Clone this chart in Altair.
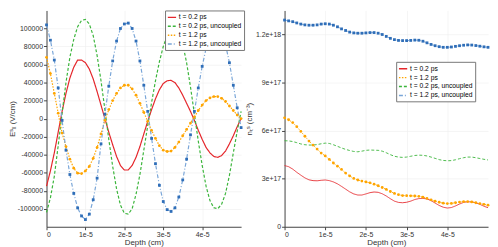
import altair as alt
import pandas as pd

# ---- data (depth in cm, sampled every 1e-6 cm) ----
depth = [i * 1e-6 for i in range(51)]

# Left panel: field Ex (V/cm)
ex_red_02 = [-75000, -58000, -38000, -15000, 8000, 28000, 45000, 57000, 65000, 65000,
             62000, 55000, 44000, 30000, 15000, 0, -15000, -29000, -42000, -52000,
             -57000, -57000, -52000, -43000, -31000, -17000, -3000, 10000, 22000, 32000,
             39000, 42000, 42500, 40000, 34000, 26000, 17000, 8000, -2000, -13000,
             -23000, -32000, -38000, -42000, -43000, -41000, -36000, -28000, -19000, -9000, 0]
ex_green_02u = [-104000, -88000, -64000, -30000, 6000, 40000, 68000, 88000, 102000, 109000,
                110000, 105000, 92000, 70000, 42000, 10000, -23000, -53000, -78000, -96000,
                -105000, -106000, -100000, -84000, -62000, -35000, -8000, 18000, 42000, 63000,
                80000, 92000, 100000, 102000, 97000, 83000, 62000, 35000, 5000, -25000,
                -52000, -75000, -91000, -99000, -100000, -95000, -83000, -63000, -38000, -14000, 8000]
ex_orange_12 = [68000, 50000, 28000, 6000, -16000, -31000, -45000, -55000, -60500, -61000,
                -58000, -53000, -44000, -32000, -17000, -2000, 10000, 20000, 28000, 34000,
                37000, 37000, 33000, 26000, 17000, 7000, -3000, -13000, -22000, -30000,
                -35000, -36500, -36000, -32000, -26000, -19000, -12000, -5000, 2000, 9000,
                15000, 20000, 23000, 24500, 24500, 22500, 19000, 14000, 9000, 4000, 0]
ex_blue_12u = [104000, 87000, 65000, 34000, -2000, -35000, -62000, -83000, -99000, -108000,
               -112000, -106000, -90000, -66000, -28000, 5000, 36000, 64000, 86000, 100000,
               105000, 106000, 100000, 86000, 64000, 37000, 8000, -22000, -50000, -74000,
               -92000, -101000, -103000, -99000, -87000, -68000, -45000, -18000, 8000, 34000,
               58000, 78000, 92000, 99000, 100000, 94000, 82000, 62000, 37000, 12000, -10000]

# Right panel: density (units of 1e17 cm^-3)
n_red_02 = [3.82, 3.75, 3.6, 3.4, 3.22, 3.05, 2.93, 2.88, 2.87, 2.9,
            2.92, 2.88, 2.8, 2.68, 2.52, 2.35, 2.18, 2.05, 1.98, 1.98,
            2.05, 2.13, 2.17, 2.15, 2.06, 1.92, 1.75, 1.6, 1.52, 1.5,
            1.53, 1.6, 1.7, 1.76, 1.77, 1.74, 1.63, 1.48, 1.33, 1.22,
            1.17, 1.2, 1.3, 1.42, 1.52, 1.56, 1.55, 1.5, 1.4, 1.28, 1.19]
n_orange_12 = [6.8, 6.68, 6.5, 6.25, 5.95, 5.65, 5.35, 5.1, 4.85, 4.6,
               4.42, 4.2, 3.98, 3.78, 3.58, 3.35, 3.17, 3.02, 2.92, 2.85,
               2.8, 2.74, 2.66, 2.56, 2.45, 2.33, 2.2, 2.08, 2.0, 1.95,
               1.94, 1.93, 1.92, 1.9, 1.85, 1.77, 1.68, 1.6, 1.53, 1.47,
               1.45, 1.46, 1.5, 1.54, 1.57, 1.57, 1.55, 1.5, 1.45, 1.4, 1.35]
n_green_02u = [5.37, 5.36, 5.32, 5.25, 5.17, 5.12, 5.1, 5.1, 5.13, 5.18,
               5.22, 5.2, 5.12, 5.02, 4.92, 4.83, 4.76, 4.7, 4.68, 4.72,
               4.77, 4.79, 4.78, 4.77, 4.72, 4.62, 4.5, 4.4, 4.35, 4.33,
               4.35, 4.4, 4.45, 4.47, 4.46, 4.42, 4.35, 4.27, 4.19, 4.14,
               4.12, 4.13, 4.18, 4.25, 4.31, 4.35, 4.35, 4.31, 4.26, 4.21, 4.17]
n_blue_12u = [12.9, 12.85, 12.8, 12.72, 12.65, 12.6, 12.58, 12.58, 12.6, 12.65,
              12.67, 12.65, 12.58, 12.48, 12.35, 12.25, 12.15, 12.1, 12.08, 12.08,
              12.1, 12.12, 12.12, 12.08, 12.0, 11.88, 11.76, 11.68, 11.63, 11.62,
              11.62, 11.63, 11.65, 11.64, 11.58, 11.48, 11.38, 11.3, 11.24, 11.2,
              11.2, 11.22, 11.26, 11.3, 11.33, 11.35, 11.34, 11.31, 11.27, 11.23, 11.2]

S1 = "t = 0.2 ps"
S2 = "t = 0.2 ps, uncoupled"
S3 = "t = 1.2 ps"
S4 = "t = 1.2 ps, uncoupled"

left_order = [S1, S2, S3, S4]
right_order = [S1, S3, S2, S4]

RED = "#e5262b"
GREEN = "#3bb53b"
ORANGE = "#ffa500"
BLUE_LINE = "#7aa6d8"
BLUE_PT = "#2f6eb8"

def long(series_map):
    rows = []
    for name, vals in series_map.items():
        for d, v in zip(depth, vals):
            rows.append({"depth": d, "value": v, "series": name})
    return pd.DataFrame(rows)

df_left = long({S1: ex_red_02, S2: ex_green_02u, S3: ex_orange_12, S4: ex_blue_12u})
df_right = long({S1: n_red_02, S3: n_orange_12, S2: n_green_02u, S4: n_blue_12u})

FONT = "Liberation Sans"

x_axis = alt.Axis(values=[0, 1e-5, 2e-5, 3e-5, 4e-5],
                  labelExpr="datum.value == 0 ? '0' : round(datum.value * 1e5) + 'e-5'",
                  title="Depth (cm)", titlePadding=1, labelPadding=1)

def legend(lx, ly):
    return alt.Legend(title=None, orient="none", legendX=lx, legendY=ly,
                      symbolType="stroke", symbolSize=70, symbolStrokeWidth=1.5,
                      labelFontSize=6.8, labelFont=FONT, padding=2, rowPadding=0,
                      strokeColor="#777", fillColor="white", labelLimit=200,
                      labelOffset=2, cornerRadius=0)

def panel(df, order, colors, dashes, ydomain, yaxis, lx, ly, w, h, sw):
    base = alt.Chart(df)
    xenc = alt.X("depth:Q", scale=alt.Scale(domain=[0, 5e-5], nice=False, zero=False), axis=x_axis)
    yenc = alt.Y("value:Q", scale=alt.Scale(domain=ydomain, nice=False, zero=False), axis=yaxis)
    lines = base.mark_line(strokeWidth=sw).encode(
        x=xenc, y=yenc,
        color=alt.Color("series:N", scale=alt.Scale(domain=order, range=colors), legend=legend(lx, ly)),
        strokeDash=alt.StrokeDash("series:N", scale=alt.Scale(domain=order, range=dashes), legend=legend(lx, ly)),
    )
    pts_orange = base.transform_filter(alt.datum.series == S3).mark_point(
        filled=True, size=8, shape="circle", opacity=1).encode(x=xenc, y=yenc, color=alt.value(ORANGE))
    pts_blue = base.transform_filter(alt.datum.series == S4).mark_point(
        filled=True, size=8, shape="square", opacity=1).encode(x=xenc, y=yenc, color=alt.value(BLUE_PT))
    return alt.layer(lines, pts_orange, pts_blue).properties(width=w, height=h)

left_y = alt.Axis(values=list(range(-100000, 100001, 20000)), labelExpr="'' + datum.value",
                  title="E\u02e2\u2093 (V/cm)", titlePadding=1, labelPadding=1)
right_y = alt.Axis(values=[0, 3, 6, 9, 12],
                   labelExpr="datum.value == 0 ? '0' : (datum.value >= 10 ? format(datum.value / 10, '.1f') + 'e+18' : round(datum.value) + 'e+17')",
                   title="n\u209c\u02e2 (cm\u207b\u00b3)", titlePadding=2, labelPadding=1)

left = panel(df_left, left_order, [RED, GREEN, ORANGE, BLUE_LINE],
             [[1, 0], [3, 2], [1.5, 1.5], [4, 2, 1, 2]],
             [-120000, 120000], left_y, 120, 0, 197, 219, 1.2)
right = panel(df_right, right_order, [RED, ORANGE, GREEN, BLUE_LINE],
              [[1, 0], [1.5, 1.5], [3, 2], [4, 2, 1, 2]],
              [0, 13.5], right_y, 113, 52, 206, 219, 0.9)

chart = alt.hconcat(left, right, spacing=0).resolve_scale(
    color="independent", strokeDash="independent"
).resolve_legend(color="independent", strokeDash="independent").properties(
    padding=0
).configure_view(stroke=None).configure_axis(
    labelFont=FONT, titleFont=FONT, labelFontSize=7, titleFontSize=8,
    labelColor="#333", titleColor="#333", titleFontWeight="normal",
    domainColor="#444", tickColor="#444", tickSize=3, domainWidth=1,
    gridColor="#eeeeee", gridWidth=0.6
)

chart.save("out.html", embed_options={"renderer": "svg", "actions": False})
